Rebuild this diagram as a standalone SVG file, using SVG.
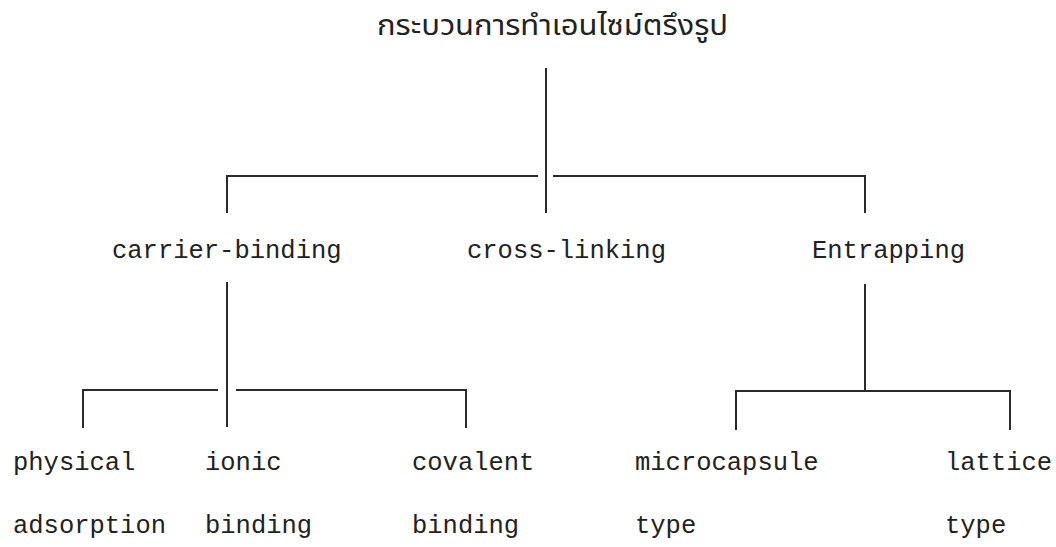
<svg xmlns="http://www.w3.org/2000/svg" width="1056" height="547" viewBox="0 0 1056 547">
  <style>
    .lbl { font-family: "Liberation Mono", "DejaVu Sans Mono", monospace; font-size: 25.5px; fill: #222; }
    .title { font-family: "Noto Sans Thai", "Noto Sans", "DejaVu Sans", sans-serif; font-size: 29px; fill: #222; }
    .ln { stroke: #2a2a2a; stroke-width: 2; fill: none; }
  </style>
  <rect width="1056" height="547" fill="#ffffff"/>

  <!-- tree connectors -->
  <g id="connectors">
    <!-- root to first level -->
    <line class="ln" x1="546" y1="68" x2="546" y2="213"/>
    <line class="ln" x1="226" y1="176" x2="538" y2="176"/>
    <line class="ln" x1="553" y1="176" x2="866" y2="176"/>
    <line class="ln" x1="227" y1="175" x2="227" y2="213"/>
    <line class="ln" x1="865" y1="175" x2="865" y2="213"/>
    <!-- carrier-binding subtree -->
    <line class="ln" x1="227" y1="282" x2="227" y2="427"/>
    <line class="ln" x1="82" y1="390" x2="218" y2="390"/>
    <line class="ln" x1="236" y1="390" x2="467" y2="390"/>
    <line class="ln" x1="83" y1="389" x2="83" y2="428"/>
    <line class="ln" x1="466" y1="389" x2="466" y2="428"/>
    <!-- Entrapping subtree -->
    <line class="ln" x1="865" y1="284" x2="865" y2="391"/>
    <line class="ln" x1="735" y1="391" x2="1011" y2="391"/>
    <line class="ln" x1="736" y1="390" x2="736" y2="430"/>
    <line class="ln" x1="1010" y1="390" x2="1010" y2="430"/>
  </g>

  <g id="root">
    <text class="title" x="377" y="35" textLength="351" lengthAdjust="spacingAndGlyphs">กระบวนการทำเอนไซม์ตรึงรูป</text>
  </g>

  <g id="carrier-binding">
    <text class="lbl" x="112" y="258">carrier-binding</text>
  </g>
  <g id="cross-linking">
    <text class="lbl" x="467" y="258">cross-linking</text>
  </g>
  <g id="entrapping">
    <text class="lbl" x="812" y="258">Entrapping</text>
  </g>

  <g id="physical-adsorption">
    <text class="lbl" x="13" y="470">physical</text>
    <text class="lbl" x="13" y="533">adsorption</text>
  </g>
  <g id="ionic-binding">
    <text class="lbl" x="205" y="470">ionic</text>
    <text class="lbl" x="205" y="533">binding</text>
  </g>
  <g id="covalent-binding">
    <text class="lbl" x="412" y="470">covalent</text>
    <text class="lbl" x="412" y="533">binding</text>
  </g>
  <g id="microcapsule-type">
    <text class="lbl" x="635" y="470">microcapsule</text>
    <text class="lbl" x="635" y="533">type</text>
  </g>
  <g id="lattice-type">
    <text class="lbl" x="945" y="470">lattice</text>
    <text class="lbl" x="945" y="533">type</text>
  </g>
</svg>
